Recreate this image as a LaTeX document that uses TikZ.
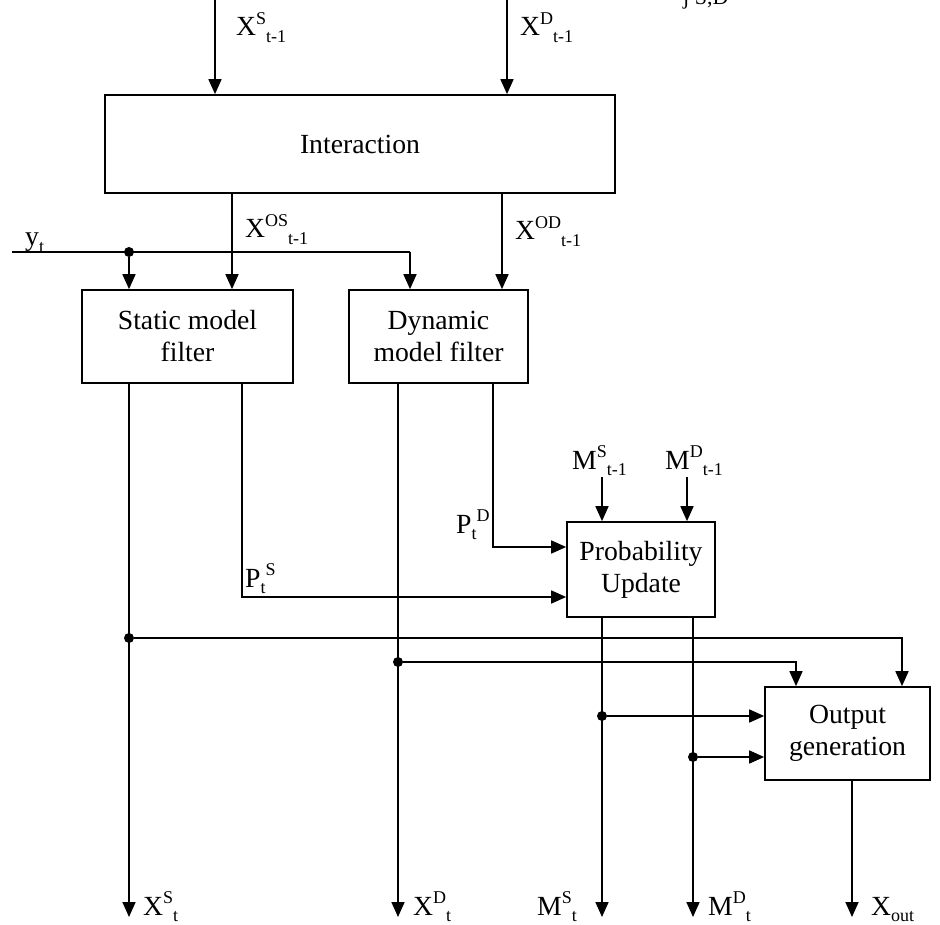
\documentclass[tikz,border=0pt]{standalone}
\usepackage{fontspec}
\setmainfont{Liberation Serif}
\usetikzlibrary{arrows.meta,calc}
\newcommand{\bigf}{\fontsize{27.7}{32}\selectfont}
\newcommand{\smf}{\fontsize{18}{18}\selectfont}
\newcommand{\SupSub}[3]{#1\raisebox{0.42em}{\smf #2}\raisebox{-0.22em}{\smf #3}}
\newcommand{\SubSup}[3]{#1\raisebox{-0.22em}{\smf #2}\raisebox{0.42em}{\smf #3}}
\newcommand{\JustSub}[2]{#1\raisebox{-0.22em}{\smf #2}}
\begin{document}
\begin{tikzpicture}[x=1pt,y=-1pt,
  blk/.style={draw, line width=1.7pt, inner sep=0pt, align=center, font=\bigf},
  wire/.style={line width=1.7pt},
  arr/.style={line width=1.7pt, -{Triangle[length=15pt,width=13pt]}},
  lbl/.style={inner sep=0pt, font=\bigf, anchor=base west},
  dot/.style={circle, fill=black, inner sep=0pt, minimum size=10pt}]
\useasboundingbox (0,0) rectangle (940,925);
\fill[white] (0,0) rectangle (940,925);

% blocks
\node[blk, minimum width=510pt, minimum height=98pt] (inter) at (360,144) {Interaction};
\node[blk, minimum width=211pt, minimum height=93pt] (stat) at (187.5,336.5) {Static model\\filter};
\node[blk, minimum width=179pt, minimum height=93pt] (dyn) at (438.5,336.5) {Dynamic\\model filter};
\node[blk, minimum width=148pt, minimum height=95pt] (prob) at (641,569.5) {Probability\\Update};
\node[blk, minimum width=165pt, minimum height=93pt] (outg) at (847.5,733.5) {Output\\generation};

% cut text at top
\node[inner sep=0pt, anchor=base west, font=\fontsize{22}{22}\selectfont] (cut) at (683,5) {j S,D};

% top inputs
\coordinate (inS) at (215,0);
\coordinate (inD) at (507,0);
\draw[arr] (inS) -- (inS |- inter.north);
\draw[arr] (inD) -- (inD |- inter.north);
\node[lbl] (lXS1) at (236,36) {\SupSub{X}{S}{t-1}};
\node[lbl] (lXD1) at (520,36) {\SupSub{X}{D}{t-1}};

% interaction outputs
\coordinate (os) at (232,0);
\coordinate (od) at (502,0);
\draw[arr] (os |- inter.south) -- (os |- stat.north);
\draw[arr] (od |- inter.south) -- (od |- dyn.north);
\node[lbl] (lXOS) at (245,238) {\SupSub{X}{OS}{t-1}};
\node[lbl] (lXOD) at (515,240) {\SupSub{X}{OD}{t-1}};

% y_t
\coordinate (yin) at (12,252);
\node[dot] (ydot) at (129,252) {};
\coordinate (ydyn) at (410,252);
\draw[wire] (yin) -- (ydyn);
\draw[arr] (ydyn) -- (ydyn |- dyn.north);
\draw[arr] (ydot) -- (ydot |- stat.north);
\node[lbl] (lyt) at (25,246) {\JustSub{y}{t}};

% static outputs
\coordinate (xsout) at (129,917);
\coordinate (ps) at (242,597);
\draw[arr] (xsout |- stat.south) -- (xsout);
\draw[arr] (ps |- stat.south) -- (ps) -- (ps -| prob.west);
\node[lbl] (lPS) at (245,587) {\SubSup{P}{t}{S}};

% dynamic outputs
\coordinate (xdout) at (398,917);
\coordinate (pd) at (493,547);
\draw[arr] (xdout |- dyn.south) -- (xdout);
\draw[arr] (pd |- dyn.south) -- (pd) -- (pd -| prob.west);
\node[lbl] (lPD) at (456,533) {\SubSup{P}{t}{D}};

% M inputs
\coordinate (msin) at (602,477);
\coordinate (mdin) at (687,477);
\draw[arr] (msin) -- (msin |- prob.north);
\draw[arr] (mdin) -- (mdin |- prob.north);
\node[lbl] (lMS1) at (572,469) {\SupSub{M}{S}{t-1}};
\node[lbl] (lMD1) at (665,469) {\SupSub{M}{D}{t-1}};

% feeds to output generation
\node[dot] (sdot) at (129,638) {};
\coordinate (og1) at (902,638);
\draw[arr] (sdot) -- (og1) -- (og1 |- outg.north);
\node[dot] (ddot) at (398,662) {};
\coordinate (og2) at (796,662);
\draw[arr] (ddot) -- (og2) -- (og2 |- outg.north);

% probability outputs
\coordinate (msout) at (602,917);
\coordinate (mdout) at (693,917);
\draw[arr] (msout |- prob.south) -- (msout);
\draw[arr] (mdout |- prob.south) -- (mdout);
\node[dot] (msdot) at (602,716) {};
\node[dot] (mddot) at (693,757) {};
\draw[arr] (msdot) -- (msdot -| outg.west);
\draw[arr] (mddot) -- (mddot -| outg.west);

% output
\coordinate (xout) at (852,917);
\draw[arr] (xout |- outg.south) -- (xout);

% bottom labels
\node[lbl] (lXSt) at (143,915) {\SupSub{X}{S}{t}};
\node[lbl] (lXDt) at (413,915) {\SupSub{X}{D}{t}};
\node[lbl] (lMSt) at (537,915) {\SupSub{M}{S}{t}};
\node[lbl] (lMDt) at (708,915) {\SupSub{M}{D}{t}};
\node[lbl] (lXo) at (871,915) {\JustSub{X}{out}};
\end{tikzpicture}
\end{document}
